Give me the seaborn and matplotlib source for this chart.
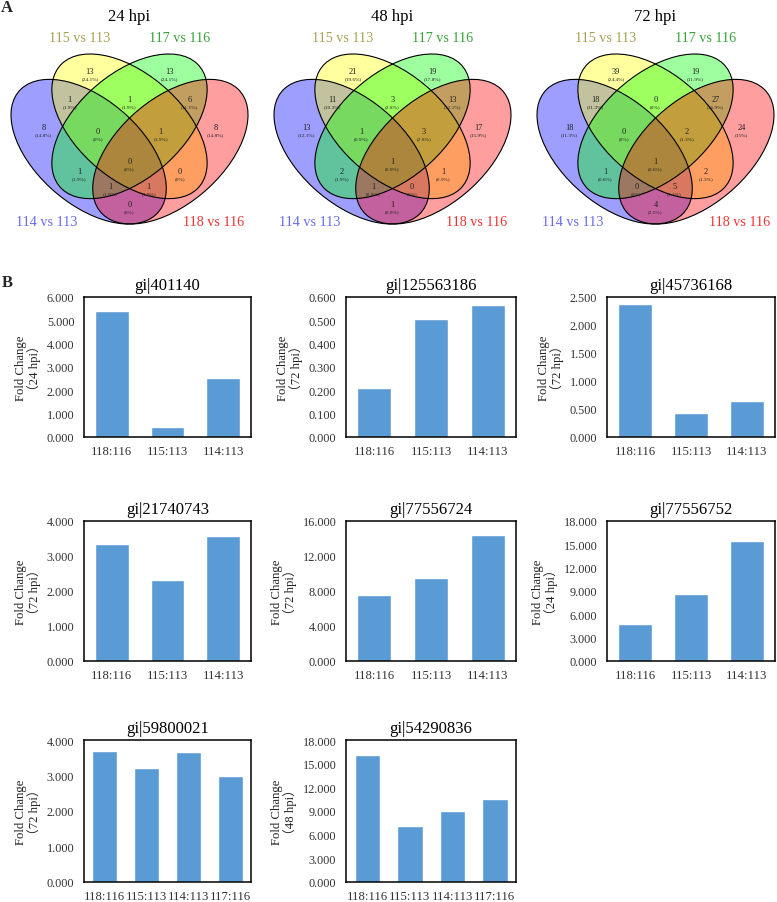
import numpy as np
import pandas as pd
import matplotlib
matplotlib.use("Agg")
import matplotlib.pyplot as plt
from matplotlib.patches import Ellipse
from matplotlib.ticker import FormatStrFormatter
import seaborn as sns

sns.set_theme(style="white")
plt.rcParams['font.family'] = ['Liberation Serif', 'Noto Sans CJK SC', 'DejaVu Sans']

# ---------------- data ----------------
venn_titles = ["24 hpi", "48 hpi", "72 hpi"]
set_names = ["114 vs 113", "115 vs 113", "117 vs 116", "118 vs 116"]
# region order: A, B, C, D, AB, BC, CD, left-centre, right-centre, centre,
#               lower-left, lower-right, small lower-left, small lower-right, bottom
counts_24 = [8, 13, 13, 8, 1, 1, 6, 0, 1, 0, 1, 0, 1, 1, 0]
pct_24 = ["14.8%", "24.1%", "24.1%", "14.8%", "1.9%", "1.9%", "11.1%", "0%", "1.9%", "0%",
          "1.9%", "0%", "1.9%", "1.9%", "0%"]
counts_48 = [13, 21, 19, 17, 11, 3, 13, 1, 3, 1, 2, 1, 1, 0, 1]
pct_48 = ["12.1%", "19.6%", "17.8%", "15.9%", "10.3%", "2.8%", "12.1%", "0.9%", "2.8%", "0.9%",
          "1.9%", "0.9%", "0.9%", "0%", "0.9%"]
counts_72 = [18, 39, 19, 24, 18, 0, 27, 0, 2, 1, 1, 2, 0, 5, 4]
pct_72 = ["11.3%", "24.4%", "11.9%", "15%", "11.3%", "0%", "16.9%", "0%", "1.3%", "0.6%",
          "0.6%", "1.3%", "0%", "3.1%", "2.5%"]

bar_titles = ["gi|401140", "gi|125563186", "gi|45736168", "gi|21740743",
              "gi|77556724", "gi|77556752", "gi|59800021", "gi|54290836"]
bar_hpi = ["24", "72", "72", "72", "72", "24", "72", "48"]
cats3 = ["118:116", "115:113", "114:113"]
cats4 = ["118:116", "115:113", "114:113", "117:116"]
vals_401140 = [5.40, 0.41, 2.53]
vals_125563186 = [0.21, 0.505, 0.565]
vals_45736168 = [2.38, 0.43, 0.65]
vals_21740743 = [3.35, 2.32, 3.57]
vals_77556724 = [7.6, 9.5, 14.4]
vals_77556752 = [4.8, 8.65, 15.4]
vals_59800021 = [3.70, 3.20, 3.67, 3.00]
vals_54290836 = [16.05, 7.1, 8.95, 10.5]
bar_vals = [vals_401140, vals_125563186, vals_45736168, vals_21740743,
            vals_77556724, vals_77556752, vals_59800021, vals_54290836]
bar_cats = [cats3, cats3, cats3, cats3, cats3, cats3, cats4, cats4]
y_max = [6, 0.6, 2.5, 4, 16, 18, 4, 18]
y_step = [1, 0.1, 0.5, 1, 4, 3, 1, 3]

# ---------------- figure ----------------
W, H = 777, 903
fig = plt.figure(figsize=(W / 100, H / 100), dpi=100)


def px_axes(x0, y0, x1, y1):
    return fig.add_axes([x0 / W, 1 - y1 / H, (x1 - x0) / W, (y1 - y0) / H])


# Venn layout
ell_centers = [(0.35, 0.47), (0.5, 0.57), (0.5, 0.57), (0.65, 0.47)]
ell_angles = [-45, -45, 45, 45]
fill_cols = ["#0000FF", "#FFFF00", "#00FF00", "#FF0000"]
label_cols = ["#6a6af0", "#a8a255", "#3aa33a", "#ee3333"]
region_pos = [(0.185, 0.567), (0.355, 0.788), (0.645, 0.788), (0.815, 0.567),
              (0.28, 0.678), (0.5, 0.678), (0.72, 0.678),
              (0.385, 0.552), (0.615, 0.552), (0.5, 0.433),
              (0.315, 0.394), (0.685, 0.394), (0.43, 0.335), (0.57, 0.335),
              (0.5, 0.264)]

venn_counts = [counts_24, counts_48, counts_72]
venn_pcts = [pct_24, pct_48, pct_72]
venn_cx = [129.5, 392.5, 655.5]

for k in range(3):
    cx = venn_cx[k]
    ax = px_axes(cx - 118.5, 55, cx + 118.5, 225)
    ax.set_xlim(0.065, 0.935)
    ax.set_ylim(0.185, 0.855)
    ax.axis("off")
    for (c, ang, fc) in zip(ell_centers, ell_angles, fill_cols):
        ax.add_patch(Ellipse(c, 0.70, 0.40, angle=ang, facecolor=fc, alpha=0.38,
                             edgecolor="none", clip_on=False))
    for (c, ang) in zip(ell_centers, ell_angles):
        ax.add_patch(Ellipse(c, 0.70, 0.40, angle=ang, facecolor="none",
                             edgecolor="black", lw=0.8, clip_on=False))
    for (px, py), n, p in zip(region_pos, venn_counts[k], venn_pcts[k]):
        ax.text(px, py, str(n), ha="center", va="center", fontsize=6, color="#222222")
        ax.text(px, py - 0.027, "(" + p + ")", ha="center", va="center", fontsize=3.9,
                color="#222222")
    fig.text(cx / W, 1 - 17 / H, venn_titles[k], ha="center", va="center", fontsize=12,
             color="black")
    fig.text((cx - 50) / W, 1 - 38 / H, set_names[1], ha="center", va="center",
             fontsize=10.2, color=label_cols[1])
    fig.text((cx + 50.5) / W, 1 - 38 / H, set_names[2], ha="center", va="center",
             fontsize=10.2, color=label_cols[2])
    fig.text((cx - 82.5) / W, 1 - 223 / H, set_names[0], ha="center", va="center",
             fontsize=10.2, color=label_cols[0])
    fig.text((cx + 84) / W, 1 - 223 / H, set_names[3], ha="center", va="center",
             fontsize=10.2, color=label_cols[3])

fig.text(7 / W, 1 - 8 / H, "A", ha="center", va="center", fontsize=12, fontweight="bold")
fig.text(7 / W, 1 - 283 / H, "B", ha="center", va="center", fontsize=12, fontweight="bold")

# Bar charts
col_x = [(84, 251), (346, 516), (607, 775)]
row_y = [(298, 438), (522, 662), (741, 883)]
bar_color = "#5B9BD5"

for i in range(8):
    r, c = divmod(i, 3)
    x0, x1 = col_x[c]
    y0, y1 = row_y[r]
    ax = px_axes(x0, y0, x1, y1)
    df = pd.DataFrame({"group": bar_cats[i], "fc": bar_vals[i]})
    sns.barplot(data=df, x="group", y="fc", ax=ax, color=bar_color, saturation=1,
                width=0.6, order=bar_cats[i])
    ax.set_xlim(-0.5, len(bar_cats[i]) - 0.5)
    ax.set_ylim(0, y_max[i])
    ax.set_yticks(np.arange(0, y_max[i] + y_step[i] / 2, y_step[i]))
    ax.yaxis.set_major_formatter(FormatStrFormatter("%.3f"))
    ax.tick_params(axis="both", length=0, colors="#333333")
    ax.tick_params(axis="y", pad=7, labelsize=8.8)
    ax.tick_params(axis="x", pad=6, labelsize=9.2)
    ax.set_xlabel("")
    ax.set_ylabel("Fold Change\n（" + bar_hpi[i] + " hpi）", fontsize=9.2, labelpad=4,
                  color="#222222", linespacing=1.0)
    ax.set_title(bar_titles[i], fontsize=12, pad=6, color="black")
    for s in ax.spines.values():
        s.set_visible(True)
        s.set_color("black")
        s.set_linewidth(1.1)
    ax.grid(False)

fig.savefig("out.png", dpi=100)
